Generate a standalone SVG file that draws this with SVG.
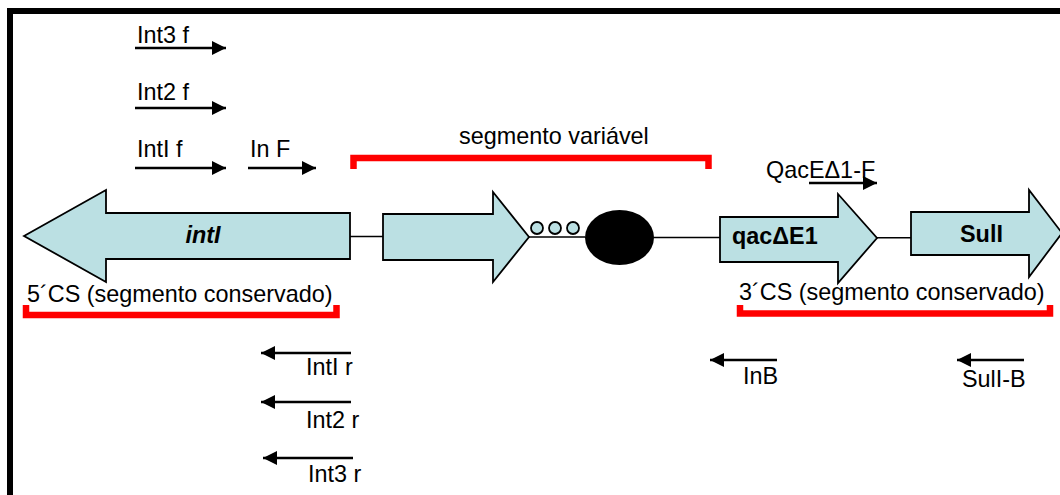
<svg xmlns="http://www.w3.org/2000/svg" width="1060" height="495" viewBox="0 0 1060 495">
  <defs>
    <style>
      text { font-family: "Liberation Sans", Arial, sans-serif; font-size: 23.4px; fill: #000; }
      .gene { fill: #bbe0e3; stroke: #000; stroke-width: 1.8; stroke-linejoin: miter; }
      .gname { font-weight: bold; }
      .link { stroke: #000; stroke-width: 1.6; fill: none; }
      .primer { stroke: #000; stroke-width: 2.6; fill: none; }
      .fwd { marker-end: url(#head); }
      .rev { marker-start: url(#headRev); }
      .bracket { stroke: #ff0000; stroke-width: 6.5; fill: none; stroke-linejoin: miter; }
    </style>
    <marker id="head" markerUnits="userSpaceOnUse" markerWidth="15" markerHeight="15" refX="14" refY="7" orient="auto">
      <path d="M0,0 L14,7 L0,14 Z" fill="#000"/>
    </marker>
    <marker id="headRev" markerUnits="userSpaceOnUse" markerWidth="15" markerHeight="15" refX="0" refY="7" orient="auto">
      <path d="M14,0 L0,7 L14,14 Z" fill="#000"/>
    </marker>
  </defs>

  <rect width="1060" height="495" fill="#fff"/>
  <!-- frame (right and bottom edges fall outside the canvas) -->
  <path d="M10,500 V11 H1066" fill="none" stroke="#000" stroke-width="6"/>

  <!-- backbone links between elements -->
  <g id="connectors">
    <line class="link" x1="350" y1="236.5" x2="383" y2="236.5"/>
    <line class="link" x1="529" y1="237" x2="585" y2="237"/>
    <line class="link" x1="654" y1="237.5" x2="720" y2="237.5"/>
    <line class="link" x1="877" y1="237.7" x2="911" y2="237.7"/>
  </g>

  <!-- integrase gene -->
  <g id="intI">
    <polygon class="gene" points="24,236 106,190 106,213 350,213 350,259 106,259 106,282"/>
    <text x="203" y="243" text-anchor="middle" class="gname" font-style="italic">intI</text>
  </g>

  <!-- variable gene cassette -->
  <g id="cassette">
    <polygon class="gene" points="383,214 493,214 493,192 529,237 493,282 493,260 383,260"/>
  </g>

  <!-- further cassettes -->
  <g id="dots">
    <circle class="gene" cx="537" cy="228" r="6"/>
    <circle class="gene" cx="555" cy="228" r="6"/>
    <circle class="gene" cx="573" cy="228" r="6"/>
  </g>

  <!-- recombination site -->
  <g id="attC">
    <ellipse cx="619.5" cy="237.5" rx="34.5" ry="27.5" fill="#000"/>
  </g>

  <!-- qacEdelta1 gene -->
  <g id="qacE">
    <polygon class="gene" points="720,217 838,217 838,194 877,238 838,283 838,262 720,262"/>
    <text x="732" y="244" class="gname">qacΔE1</text>
  </g>

  <!-- sul1 gene -->
  <g id="sulI">
    <polygon class="gene" points="911,212 1029,212 1029,190 1062,233 1029,277 1029,255 911,255"/>
    <text x="960" y="242" class="gname">SulI</text>
  </g>

  <!-- segment brackets -->
  <g id="segment-variable">
    <path class="bracket" d="M353.5,169 V158 H708.5 V169"/>
    <text x="459" y="144">segmento variável</text>
  </g>
  <g id="segment-5cs">
    <path class="bracket" d="M26,305 V315 H336.5 V305"/>
    <text x="27" y="302">5´CS (segmento conservado)</text>
  </g>
  <g id="segment-3cs">
    <path class="bracket" d="M740,305 V313.5 H1050 V305"/>
    <text x="739" y="300">3´CS (segmento conservado)</text>
  </g>

  <!-- forward primers -->
  <g id="primer-int3f">
    <line class="primer fwd" x1="135" y1="48" x2="226" y2="48"/>
    <text x="137" y="43">Int3 f</text>
  </g>
  <g id="primer-int2f">
    <line class="primer fwd" x1="135" y1="108" x2="226" y2="108"/>
    <text x="137" y="100">Int2 f</text>
  </g>
  <g id="primer-int1f">
    <line class="primer fwd" x1="135" y1="168" x2="226" y2="168"/>
    <text x="137" y="157">IntI f</text>
  </g>
  <g id="primer-inF">
    <line class="primer fwd" x1="248" y1="168" x2="316" y2="168"/>
    <text x="250" y="157">In F</text>
  </g>
  <g id="primer-qacF">
    <text x="766" y="178">QacEΔ1-F</text>
    <line class="primer fwd" x1="809" y1="183" x2="877" y2="183"/>
  </g>

  <!-- reverse primers -->
  <g id="primer-int1r">
    <line class="primer rev" x1="261" y1="353" x2="351" y2="353"/>
    <text x="306" y="375">IntI r</text>
  </g>
  <g id="primer-int2r">
    <line class="primer rev" x1="261" y1="402" x2="351" y2="402"/>
    <text x="306" y="428">Int2 r</text>
  </g>
  <g id="primer-int3r">
    <line class="primer rev" x1="263" y1="458" x2="353" y2="458"/>
    <text x="308" y="482">Int3 r</text>
  </g>
  <g id="primer-inB">
    <line class="primer rev" x1="710" y1="360" x2="777" y2="360"/>
    <text x="743" y="384">InB</text>
  </g>
  <g id="primer-sulB">
    <line class="primer rev" x1="957" y1="360" x2="1024" y2="360"/>
    <text x="962" y="387">SulI-B</text>
  </g>
</svg>
